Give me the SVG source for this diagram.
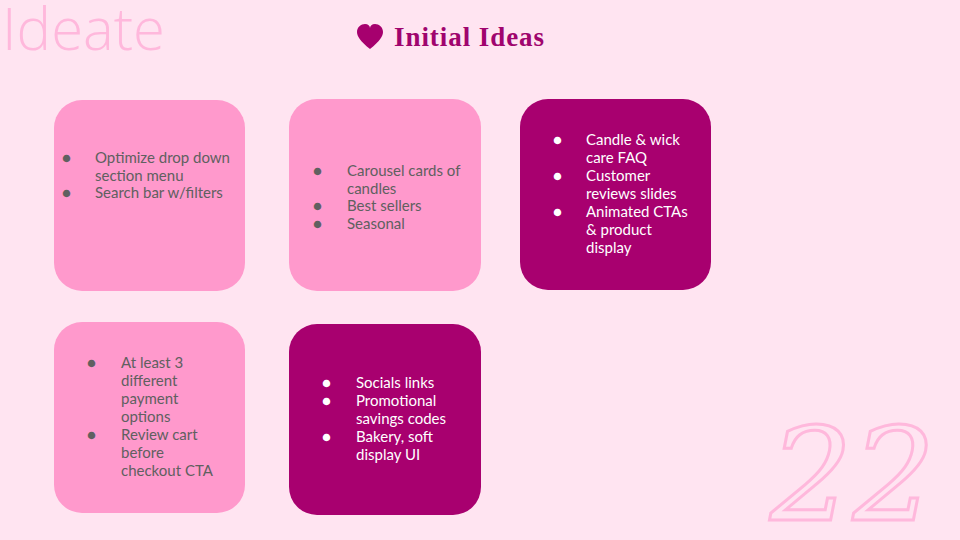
<svg xmlns="http://www.w3.org/2000/svg" width="960" height="540" viewBox="0 0 960 540">
<style>
.light{fill:#FF99CC}
.dark{fill:#A8006F}
.t{font-family:Lato,"Liberation Sans",sans-serif;font-size:15px}
.g{fill:#606060}
.w{fill:#ffffff}
</style>
<rect width="960" height="540" fill="#FFE4F1"/>
<text x="2" y="50" font-family="'Open Sans','Liberation Sans',sans-serif" font-weight="300" font-size="58" fill="#FFB8DC">Ideate</text>
<path d="M370,49 C360,41 357,36 357,32 C357,27 361,24 365,24 C368,24 370,26 370,28 C370,26 372,24 375,24 C379,24 383,27 383,32 C383,36 380,41 370,49 Z" fill="#A6006E"/>
<text x="394" y="46" font-family="'Liberation Serif',serif" font-weight="bold" font-size="27" fill="#A0046E" textLength="150">Initial Ideas</text>
<g id="box1"><rect class="light" x="54" y="100" width="191" height="191" rx="28"/>
<text class="t g"><tspan x="62" y="163">●</tspan><tspan x="95" y="163">Optimize drop down</tspan><tspan x="95" y="181">section menu</tspan><tspan x="62" y="198">●</tspan><tspan x="95" y="198">Search bar w/filters</tspan></text></g>
<g id="box2"><rect class="light" x="289" y="99" width="192" height="192" rx="28"/>
<text class="t g"><tspan x="313" y="176">●</tspan><tspan x="347" y="176">Carousel cards of</tspan><tspan x="347" y="194">candles</tspan><tspan x="313" y="211">●</tspan><tspan x="347" y="211">Best sellers</tspan><tspan x="313" y="229">●</tspan><tspan x="347" y="229">Seasonal</tspan></text></g>
<g id="box3"><rect class="dark" x="520" y="99" width="191" height="191" rx="28"/>
<text class="t w"><tspan x="553" y="145">●</tspan><tspan x="586" y="145">Candle &amp; wick</tspan><tspan x="586" y="163">care FAQ</tspan><tspan x="553" y="181">●</tspan><tspan x="586" y="181">Customer</tspan><tspan x="586" y="199">reviews slides</tspan><tspan x="553" y="217">●</tspan><tspan x="586" y="217">Animated CTAs</tspan><tspan x="586" y="235">&amp; product</tspan><tspan x="586" y="253">display</tspan></text></g>
<g id="box4"><rect class="light" x="54" y="322" width="191" height="191" rx="28"/>
<text class="t g"><tspan x="87" y="368">●</tspan><tspan x="121" y="368">At least 3</tspan><tspan x="121" y="386">different</tspan><tspan x="121" y="404">payment</tspan><tspan x="121" y="422">options</tspan><tspan x="87" y="440">●</tspan><tspan x="121" y="440">Review cart</tspan><tspan x="121" y="458">before</tspan><tspan x="121" y="476">checkout CTA</tspan></text></g>
<g id="box5"><rect class="dark" x="289" y="324" width="192" height="191" rx="28"/>
<text class="t w"><tspan x="322" y="388">●</tspan><tspan x="356" y="388">Socials links</tspan><tspan x="322" y="406">●</tspan><tspan x="356" y="406">Promotional</tspan><tspan x="356" y="424">savings codes</tspan><tspan x="322" y="442">●</tspan><tspan x="356" y="442">Bakery, soft</tspan><tspan x="356" y="460">display UI</tspan></text></g>
<g id="connectors"/>
<text x="770" y="520" font-family="'DejaVu Serif',serif" font-style="italic" font-size="130" fill="none" stroke="#FFB8DC" stroke-width="3">22</text>
</svg>
